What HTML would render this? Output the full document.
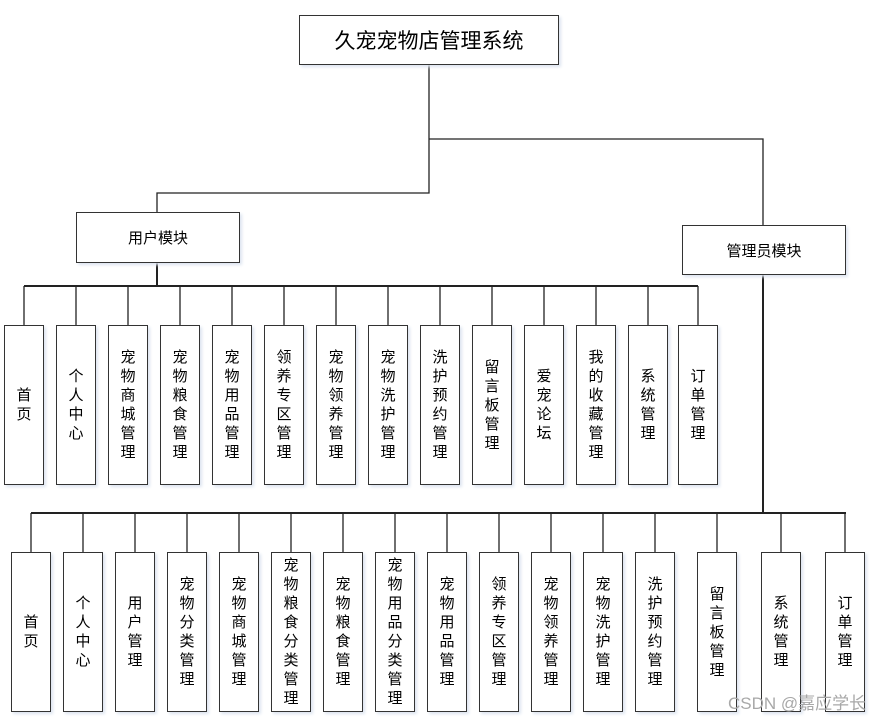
<!DOCTYPE html>
<html><head><meta charset="utf-8"><style>
body{margin:0;width:880px;height:719px;background:#fff;position:relative;overflow:hidden;font-family:"Liberation Sans","Noto Sans CJK SC",sans-serif;color:#000}
.b{position:absolute;box-sizing:border-box;border:1.5px solid #333;background:#fff;display:flex;align-items:center;justify-content:center;box-shadow:2px 2px 3px #dde4f0}
.v{width:40px;height:160px}
.v span{display:block;width:15px;font-size:15px;line-height:19px;word-break:break-all;text-align:center}
.r1{top:325px}.r2{top:552px}
svg{position:absolute;left:0;top:0}
</style></head><body>
<svg width="880" height="719">
<g stroke="#222" stroke-width="1.3" fill="none">
<path d="M429 64V193H157V212M429 139H763V225"/>
<path d="M157 262V286M24 286H698" stroke-width="2"/>
<path d="M24 286V325M76 286V325M128 286V325M180 286V325M232 286V325M284 286V325M336 286V325M388 286V325M440 286V325M492 286V325M544 286V325M596 286V325M648 286V325M698 286V325"/>
<path d="M763 274V513M31 513H846" stroke-width="2"/>
<path d="M31 513V552M83 513V552M135 513V552M187 513V552M239 513V552M291 513V552M343 513V552M395 513V552M447 513V552M499 513V552M551 513V552M603 513V552M655 513V552M717 513V552M781 513V552M845 513V552"/>
</g></svg>
<div class="b" style="left:299px;top:15px;width:260px;height:50px;font-size:21px">久宠宠物店管理系统</div>
<div class="b" style="left:76px;top:212px;width:164px;height:51px;font-size:15px">用户模块</div>
<div class="b" style="left:682px;top:225px;width:164px;height:50px;font-size:15px">管理员模块</div>

<div class="b v r1" style="left:4px"><span>首页</span></div>
<div class="b v r1" style="left:56px"><span>个人中心</span></div>
<div class="b v r1" style="left:108px"><span>宠物商城管理</span></div>
<div class="b v r1" style="left:160px"><span>宠物粮食管理</span></div>
<div class="b v r1" style="left:212px"><span>宠物用品管理</span></div>
<div class="b v r1" style="left:264px"><span>领养专区管理</span></div>
<div class="b v r1" style="left:316px"><span>宠物领养管理</span></div>
<div class="b v r1" style="left:368px"><span>宠物洗护管理</span></div>
<div class="b v r1" style="left:420px"><span>洗护预约管理</span></div>
<div class="b v r1" style="left:472px"><span>留言板管理</span></div>
<div class="b v r1" style="left:524px"><span>爱宠论坛</span></div>
<div class="b v r1" style="left:576px"><span>我的收藏管理</span></div>
<div class="b v r1" style="left:628px"><span>系统管理</span></div>
<div class="b v r1" style="left:678px"><span>订单管理</span></div>

<div class="b v r2" style="left:11px"><span>首页</span></div>
<div class="b v r2" style="left:63px"><span>个人中心</span></div>
<div class="b v r2" style="left:115px"><span>用户管理</span></div>
<div class="b v r2" style="left:167px"><span>宠物分类管理</span></div>
<div class="b v r2" style="left:219px"><span>宠物商城管理</span></div>
<div class="b v r2" style="left:271px"><span>宠物粮食分类管理</span></div>
<div class="b v r2" style="left:323px"><span>宠物粮食管理</span></div>
<div class="b v r2" style="left:375px"><span>宠物用品分类管理</span></div>
<div class="b v r2" style="left:427px"><span>宠物用品管理</span></div>
<div class="b v r2" style="left:479px"><span>领养专区管理</span></div>
<div class="b v r2" style="left:531px"><span>宠物领养管理</span></div>
<div class="b v r2" style="left:583px"><span>宠物洗护管理</span></div>
<div class="b v r2" style="left:635px"><span>洗护预约管理</span></div>
<div class="b v r2" style="left:697px"><span>留言板管理</span></div>
<div class="b v r2" style="left:761px"><span>系统管理</span></div>
<div class="b v r2" style="left:825px"><span>订单管理</span></div>

<div style="position:absolute;left:728px;top:689px;font-size:17px;color:#a8a8a8;white-space:nowrap">CSDN @嘉应学长</div>
</body></html>
